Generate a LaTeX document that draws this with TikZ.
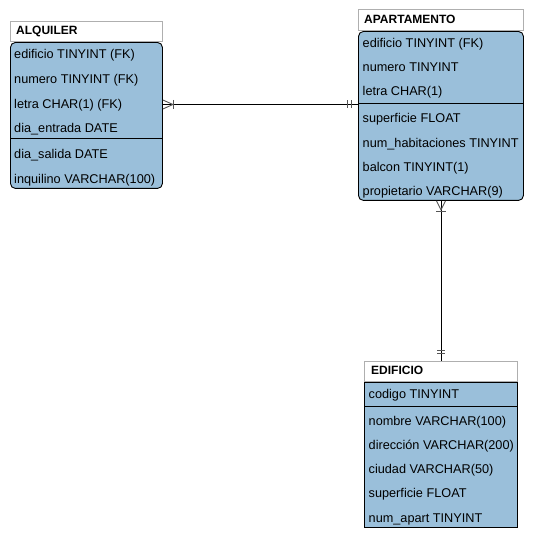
\documentclass[tikz,border=0pt]{standalone}
\usepackage{fontspec}
\setmainfont{Liberation Sans}
\usetikzlibrary{calc}
\definecolor{rowblue}{RGB}{154,191,218}
\definecolor{headgray}{RGB}{175,175,175}
\definecolor{markgray}{RGB}{85,85,85}

\begin{document}
\begin{tikzpicture}[x=1pt,y=-1pt,
  tablebody/.style={draw=black, fill=rowblue, line width=0.9pt, anchor=north west, inner sep=0pt},
  roundbody/.style={tablebody, rounded corners=5pt},
  tablehead/.style={draw=headgray, fill=white, line width=0.9pt, anchor=south west, inner sep=0pt},
  headtext/.style={anchor=base west, inner sep=0pt, font=\bfseries\fontsize{12}{14}\selectfont},
  rowtext/.style={anchor=base west, inner sep=0pt, font=\fontsize{12.7}{14}\selectfont},
  sepline/.style={draw=black, line width=0.9pt},
  linkline/.style={draw=black, line width=0.9pt},
  crowmark/.style={draw=markgray, line width=0.9pt}]

\useasboundingbox (0,0) rectangle (533,537);

% ---------------- ALQUILER ----------------
\node[roundbody, minimum width=152pt, minimum height=146pt] (alq) at (10,42) {};
\node[tablehead, minimum width=152pt, minimum height=20pt] (alqh) at (alq.north west) {};
\draw[sepline] (alq.west |- 0,138) -- (alq.east |- 0,138);
\node[headtext] (alqt) at (16,34.7) {ALQUILER};
\node[rowtext] (alq1) at (14,58.6) {edificio TINYINT (FK)};
\node[rowtext] (alq2) at (14,83.4) {numero TINYINT (FK)};
\node[rowtext] (alq3) at (14,108.2) {letra CHAR(1) (FK)};
\node[rowtext] (alq4) at (14,132.6) {dia\_entrada DATE};
\node[rowtext] (alq5) at (14,158.6) {dia\_salida DATE};
\node[rowtext] (alq6) at (14,183.2) {inquilino VARCHAR(100)};

% ---------------- APARTAMENTO ----------------
\node[roundbody, minimum width=165pt, minimum height=169pt] (apt) at (358,31) {};
\node[tablehead, minimum width=165pt, minimum height=21pt] (apth) at (apt.north west) {};
\draw[sepline] (apt.west |- 0,103) -- (apt.east |- 0,103);
\node[headtext] (aptt) at (364,23.5) {APARTAMENTO};
\node[rowtext] (apt1) at (362.5,47.6) {edificio TINYINT (FK)};
\node[rowtext] (apt2) at (362.5,71.6) {numero TINYINT};
\node[rowtext] (apt3) at (362.5,95.2) {letra CHAR(1)};
\node[rowtext] (apt4) at (362.5,122.6) {superficie FLOAT};
\node[rowtext] (apt5) at (362.5,147.4) {num\_habitaciones TINYINT};
\node[rowtext] (apt6) at (362.5,171.2) {balcon TINYINT(1)};
\node[rowtext] (apt7) at (362.5,195.2) {propietario VARCHAR(9)};

% ---------------- EDIFICIO ----------------
\node[tablebody, minimum width=153pt, minimum height=145pt] (edi) at (364,382) {};
\node[tablehead, minimum width=153pt, minimum height=20pt] (edih) at (edi.north west) {};
\draw[sepline] (edi.west |- 0,406) -- (edi.east |- 0,406);
\node[headtext] (edit) at (371,374.5) {EDIFICIO};
\node[rowtext] (edi1) at (368.5,398.3) {codigo TINYINT};
\node[rowtext] (edi2) at (368.5,425) {nombre VARCHAR(100)};
\node[rowtext] (edi3) at (368.5,449.3) {dirección VARCHAR(200)};
\node[rowtext] (edi4) at (368.5,473.3) {ciudad VARCHAR(50)};
\node[rowtext] (edi5) at (368.5,497.3) {superficie FLOAT};
\node[rowtext] (edi6) at (368.5,522.3) {num\_apart TINYINT};

% ---------------- relationships ----------------
% ALQUILER (many) -- APARTAMENTO (one)
\coordinate (la) at (alq.east |- 0,104.5);
\coordinate (lb) at (apt.west |- 0,104.5);
\draw[linkline] (la) -- (lb);
\draw[crowmark] ($(la)+(0,-4.5)$) -- ($(la)+(10,0)$) -- ($(la)+(0,4.5)$);
\draw[crowmark] ($(la)+(11,-4.5)$) -- ($(la)+(11,4.5)$);
\draw[crowmark] ($(lb)+(-10.5,-4)$) -- ($(lb)+(-10.5,4)$);
\draw[crowmark] ($(lb)+(-7,-4)$) -- ($(lb)+(-7,4)$);

% APARTAMENTO (many) -- EDIFICIO (one)
\coordinate (va) at (apt.south -| 441,0);
\coordinate (vb) at (edih.north -| 441,0);
\draw[linkline] (va) -- (vb);
\draw[crowmark] ($(va)+(-4.5,0)$) -- ($(va)+(0,9)$) -- ($(va)+(4.5,0)$);
\draw[crowmark] ($(va)+(-5,10.5)$) -- ($(va)+(5,10.5)$);
\draw[crowmark] ($(vb)+(-4,-11)$) -- ($(vb)+(4,-11)$);
\draw[crowmark] ($(vb)+(-4,-7.5)$) -- ($(vb)+(4,-7.5)$);

\end{tikzpicture}
\end{document}
